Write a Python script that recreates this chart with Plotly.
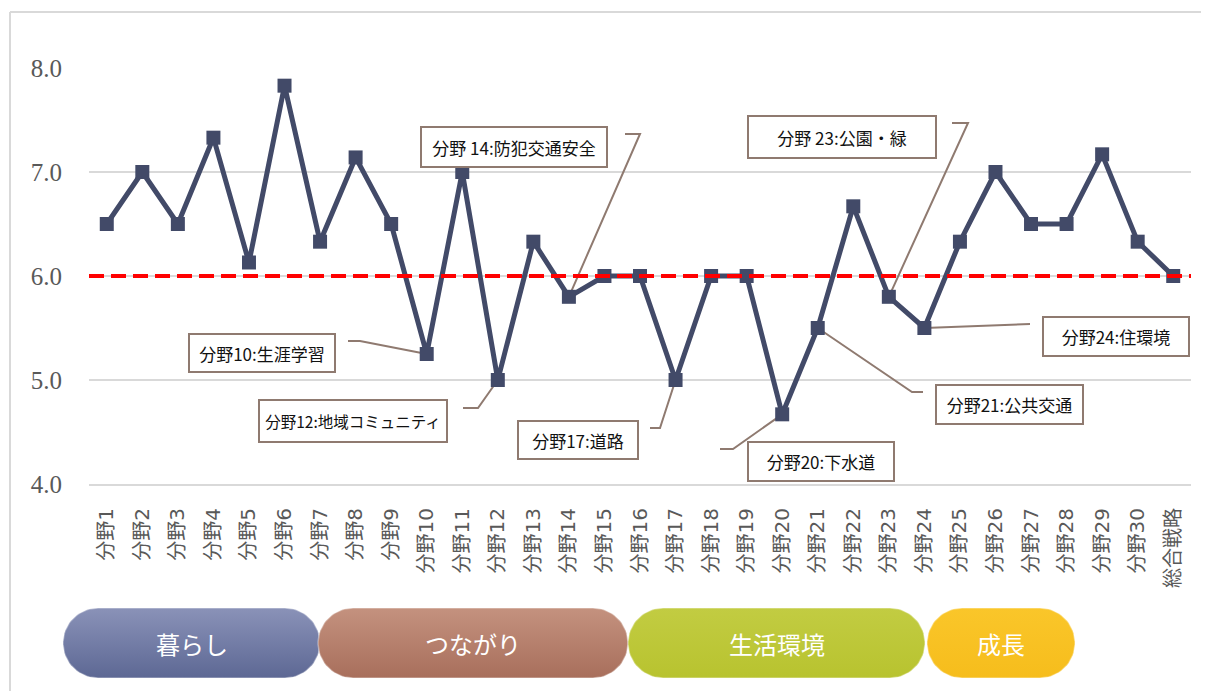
import numpy as np
import plotly.graph_objects as go

# ---------------- data ----------------
categories = ['分野1', '分野2', '分野3', '分野4', '分野5', '分野6', '分野7', '分野8', '分野9', '分野10',
              '分野11', '分野12', '分野13', '分野14', '分野15', '分野16', '分野17', '分野18', '分野19', '分野20',
              '分野21', '分野22', '分野23', '分野24', '分野25', '分野26', '分野27', '分野28', '分野29', '分野30',
              '総合戦略']
values = [6.5, 7.0, 6.5, 7.33, 6.13, 7.83, 6.33, 7.14, 6.5, 5.25,
          7.0, 5.0, 6.33, 5.8, 6.0, 6.0, 5.0, 6.0, 6.0, 4.67,
          5.5, 6.67, 5.8, 5.5, 6.33, 7.0, 6.5, 6.5, 7.17, 6.33,
          6.0]
threshold = 6.0
y_ticks = [4.0, 5.0, 6.0, 7.0, 8.0]

callout_labels = ['分野10:生涯学習', '分野12:地域コミュニティ', '分野 14:防犯交通安全', '分野17:道路',
                  '分野20:下水道', '分野21:公共交通', '分野 23:公園・緑', '分野24:住環境']
callout_index = [9, 11, 13, 16, 19, 20, 22, 23]

group_labels = ['暮らし', 'つながり', '生活環境', '成長']

# ---------------- layout geometry (screen pixels) ----------------
WIN_W, WIN_H = 1209, 691
OFF = 8                      # page body margin
FW, FH = WIN_W - OFF, WIN_H - OFF
PL, PR, PT, PB = 89, 1191, 68, 484
N = len(categories)


def pxp(px):   # screen x -> paper x
    return (px - OFF) / FW


def pyp(py):   # screen y -> paper y
    return 1 - (py - OFF) / FH


def px_to_x(px):
    return -0.5 + (px - PL) / (PR - PL) * N


def py_to_y(py):
    return 4 + (PB - py) / (PB - PT) * 4


# callout boxes: centre x, centre y, width, height (screen pixels), font size
box_geom = [(262, 353, 148, 40, 17), (353, 421, 190, 44, 15.5), (514, 147, 188, 42, 17), (578, 440, 122, 40, 17),
            (821, 461, 148, 41, 17), (1009, 404, 149, 41, 17), (842, 137, 190, 44, 17), (1116, 337, 148, 41, 17)]
# leader elbows (screen pixels), ordered from the box end towards the data point
leader_pts = [[(348, 341), (360, 341)], [(463, 408), (478, 408)], [(625, 134), (640, 134)],
              [(650, 428), (660, 428)], [(720, 449), (733, 449)], [(923, 392), (912, 392)],
              [(952, 123), (968, 123)], [(1030, 324)]]

pill_geom = [(63, 320), (318, 628), (628, 925), (927, 1075)]
pill_y = (608, 678)
pill_colors = [('#8a92b8', '#5d6894'), ('#c4927f', '#a86f5c'), ('#c2cc42', '#b8c32f'), ('#fac62a', '#f6bd1c')]

navy = '#424a68'
leader_color = '#8f7a70'

fig = go.Figure()

fig.add_trace(go.Scatter(
    x=list(range(N)), y=values, mode='lines+markers',
    line=dict(color=navy, width=5),
    marker=dict(symbol='square', size=14, color=navy),
    hoverinfo='skip', showlegend=False, cliponaxis=False,
))

shapes = []
# red dashed threshold
shapes.append(dict(type='line', xref='x domain', yref='y', x0=0, x1=1, y0=threshold, y1=threshold,
                   line=dict(color='#ff0000', width=4, dash='15px,7px'), layer='above'))

# leader lines
for pts, idx in zip(leader_pts, callout_index):
    seq = [(px_to_x(a), py_to_y(b)) for a, b in pts] + [(idx, values[idx])]
    path = 'M ' + ' L '.join(f'{x:.4f},{y:.4f}' for x, y in seq)
    shapes.append(dict(type='path', xref='x', yref='y', path=path,
                       line=dict(color=leader_color, width=2), layer='between'))

# outer frame
shapes.append(dict(type='line', xref='paper', yref='paper', x0=pxp(10), x1=1, y0=pyp(12), y1=pyp(12),
                   line=dict(color='#d9d9d9', width=2)))
shapes.append(dict(type='line', xref='paper', yref='paper', x0=pxp(10), x1=pxp(10), y0=0, y1=pyp(12),
                   line=dict(color='#d9d9d9', width=2)))

annotations = []
for text, (cx, cy, bw, bh, fs) in zip(callout_labels, box_geom):
    annotations.append(dict(
        text=text, xref='paper', yref='paper', x=pxp(cx), y=pyp(cy),
        xanchor='center', yanchor='middle', showarrow=False,
        width=bw - 4, height=bh - 4, borderpad=0,
        bgcolor='white', bordercolor=leader_color, borderwidth=2,
        font=dict(family='Noto Sans CJK JP', size=fs, color='#111111'),
    ))


# group pills drawn on a pixel overlay axis (screen coordinates)
def stadium(x0, x1, y0, y1, n=40):
    r = (y1 - y0) / 2
    cy = (y0 + y1) / 2
    xs, ys = [], []
    for t in np.linspace(-np.pi / 2, np.pi / 2, n):
        xs.append(x1 - r + r * np.cos(t)); ys.append(cy + r * np.sin(t))
    for t in np.linspace(np.pi / 2, 3 * np.pi / 2, n):
        xs.append(x0 + r + r * np.cos(t)); ys.append(cy + r * np.sin(t))
    xs.append(xs[0]); ys.append(ys[0])
    return xs, ys


for label, (x0, x1), (ctop, cbot) in zip(group_labels, pill_geom, pill_colors):
    xs, ys = stadium(x0, x1, pill_y[0], pill_y[1])
    fig.add_trace(go.Scatter(
        x=xs, y=ys, xaxis='x2', yaxis='y2', mode='lines', fill='toself',
        fillgradient=dict(type='vertical', colorscale=[[0, cbot], [1, ctop]]),
        line=dict(color='rgba(255,255,255,0.35)', width=1.5),
        hoverinfo='skip', showlegend=False,
    ))
    annotations.append(dict(
        text=label, xref='paper', yref='paper', x=pxp((x0 + x1) / 2), y=pyp(sum(pill_y) / 2),
        xanchor='center', yanchor='middle', showarrow=False,
        font=dict(family='Noto Sans CJK JP', size=24, color='white'),
    ))

fig.update_layout(
    width=FW, height=FH,
    margin=dict(l=0, r=0, t=0, b=0, pad=0, autoexpand=False),
    paper_bgcolor='white', plot_bgcolor='rgba(0,0,0,0)',
    xaxis=dict(domain=[pxp(PL), pxp(PR)], range=[-0.5, N - 0.5], automargin=False,
               tickvals=list(range(N)), ticktext=categories, tickangle=-90,
               showgrid=False, zeroline=False, showline=True, linecolor='#d9d9d9', linewidth=2,
               ticks='', ticklabelstandoff=14,
               tickfont=dict(family='DejaVu Sans, Noto Sans CJK JP', size=20, color='#595959')),
    yaxis=dict(domain=[pyp(PB), pyp(PT)], range=[4, 8], tickvals=y_ticks, automargin=False,
               tickformat='.1f', showgrid=True, gridcolor='#d9d9d9', gridwidth=2,
               zeroline=False, ticks='', ticklabelstandoff=26,
               tickfont=dict(family='Liberation Serif', size=25, color='#595959')),
    xaxis2=dict(domain=[0, 1], range=[OFF, OFF + FW], visible=False, fixedrange=True,
                automargin=False, anchor='y2'),
    yaxis2=dict(domain=[0, 1], range=[OFF + FH, OFF], visible=False, fixedrange=True,
                automargin=False, anchor='x2'),
    shapes=shapes, annotations=annotations,
)

fig.write_html('out.html')
